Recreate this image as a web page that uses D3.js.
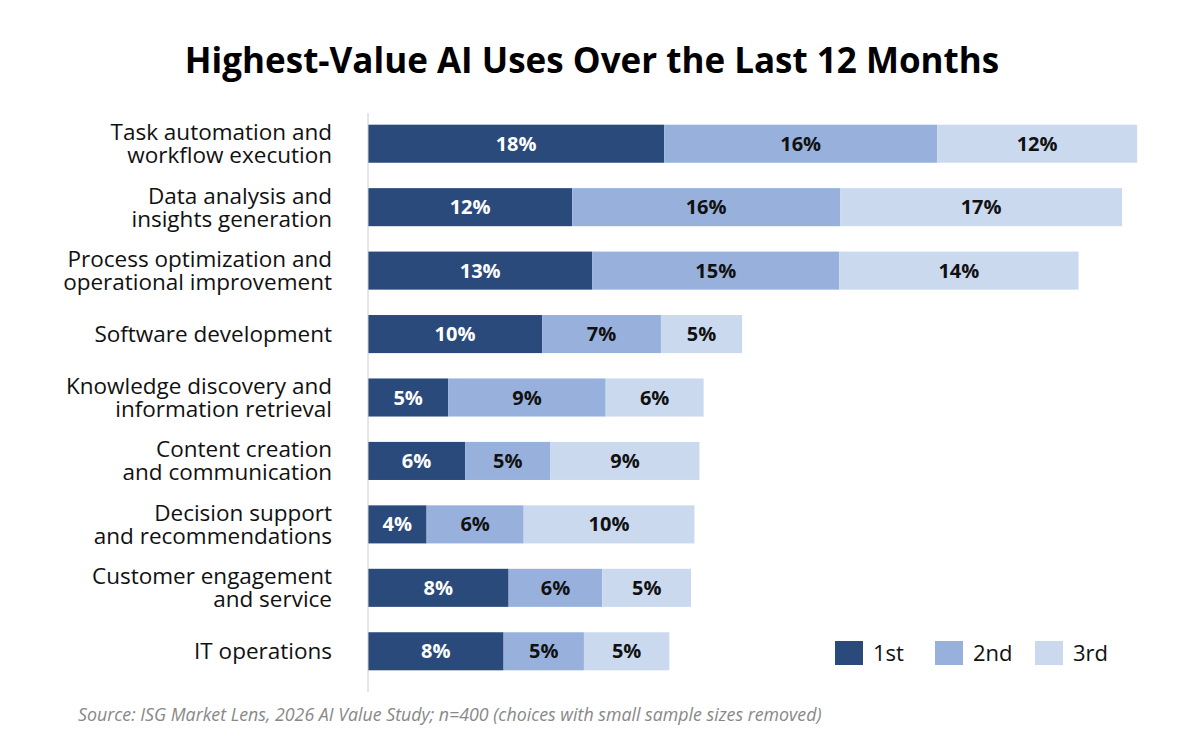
<!DOCTYPE html>
<html><head><meta charset="utf-8">
<script src="https://cdn.jsdelivr.net/npm/d3@7"></script>
<style>body{margin:0;background:#fff;font-family:"Open Sans",sans-serif}</style>
</head><body><svg id="c" width="1201" height="750"></svg>
<script>
const categories = [["Task automation and","workflow execution"],["Data analysis and","insights generation"],["Process optimization and","operational improvement"],["Software development"],["Knowledge discovery and","information retrieval"],["Content creation","and communication"],["Decision support","and recommendations"],["Customer engagement","and service"],["IT operations"]];
const first = [17.7,12.2,13.4,10.4,4.8,5.8,3.5,8.4,8.1];
const second = [16.3,16.0,14.75,7.1,9.4,5.1,5.8,5.6,4.8];
const third = [11.95,16.85,14.3,4.85,5.85,8.9,10.2,5.3,5.1];
const firstLabels = ["18%","12%","13%","10%","5%","6%","4%","8%","8%"];
const secondLabels = ["16%","16%","15%","7%","9%","5%","6%","6%","5%"];
const thirdLabels = ["12%","17%","14%","5%","6%","9%","10%","5%","5%"];
const seriesNames = ["1st","2nd","3rd"];
const colors = ["#2b4a7c","#97b1dc","#cbd9ef"];
const textColors = ["#fff","#111","#111"];

const svg = d3.select("#c");
const x = d3.scaleLinear().domain([0,46]).range([368,1138]);
const y = d3.scaleBand().domain(d3.range(categories.length)).range([112,683]).paddingInner(0.4).paddingOuter(0.2);

svg.append("text").attr("x",592).attr("y",73).attr("text-anchor","middle").attr("font-size",35).attr("font-weight",700).attr("fill","#000").text("Highest-Value AI Uses Over the Last 12 Months");

const series=[first,second,third], labels=[firstLabels,secondLabels,thirdLabels];
categories.forEach((c,i)=>{
  let acc=0;
  series.forEach((s,k)=>{
    const x0=acc, x1=acc+s[i]; acc=x1;
    svg.append("rect").attr("x",x(x0)).attr("y",y(i)).attr("width",x(x1)-x(x0)).attr("height",y.bandwidth()).attr("fill",colors[k]);
    svg.append("text").attr("x",(x(x0)+x(x1))/2).attr("y",y(i)+y.bandwidth()/2).attr("dy","0.35em").attr("text-anchor","middle").attr("font-size",20).attr("font-weight",700).attr("fill",textColors[k]).text(labels[k][i]);
  });
  const cy=y(i)+y.bandwidth()/2;
  const t=svg.append("text").attr("text-anchor","end").attr("font-size",22.5).attr("fill","#111");
  c.forEach((line,j)=>t.append("tspan").attr("x",332).attr("y",cy+(j-(c.length-1)/2)*23).attr("dy","0.35em").text(line));
});
svg.append("line").attr("x1",368).attr("x2",368).attr("y1",113).attr("y2",692).attr("stroke","#ccc").attr("stroke-width",1);

const lx=[835,935,1035];
seriesNames.forEach((n,k)=>{
  svg.append("rect").attr("x",lx[k]).attr("y",641).attr("width",28).attr("height",24).attr("fill",colors[k]);
  svg.append("text").attr("x",lx[k]+38).attr("y",653).attr("dy","0.35em").attr("font-size",22).attr("fill","#111").text(n);
});
svg.append("text").attr("x",78).attr("y",721).attr("font-size",17.8).attr("font-style","italic").attr("fill","#888").text("Source: ISG Market Lens, 2026 AI Value Study; n=400 (choices with small sample sizes removed)");
</script></body></html>
